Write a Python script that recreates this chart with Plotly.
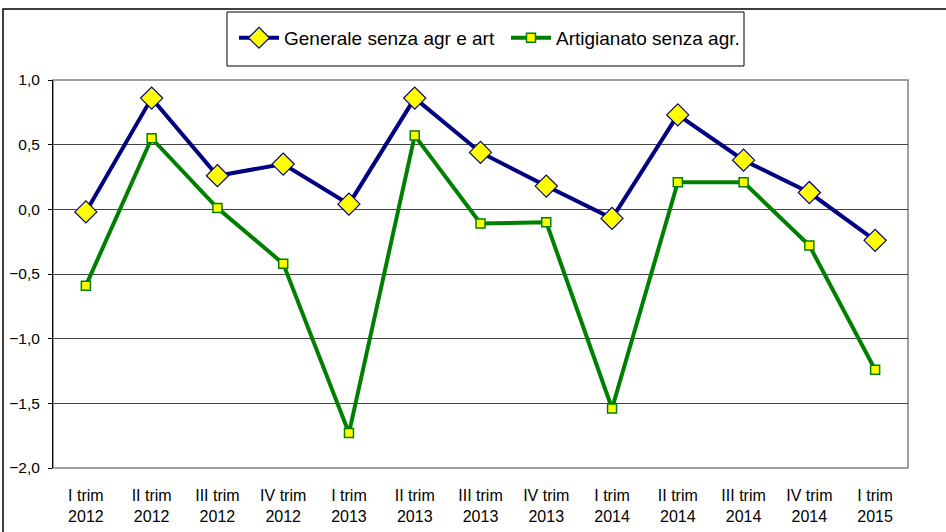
import plotly.graph_objects as go

categories = ["I trim<br>2012", "II trim<br>2012", "III trim<br>2012", "IV trim<br>2012",
              "I trim<br>2013", "II trim<br>2013", "III trim<br>2013", "IV trim<br>2013",
              "I trim<br>2014", "II trim<br>2014", "III trim<br>2014", "IV trim<br>2014",
              "I trim<br>2015"]
generale = [-0.02, 0.86, 0.26, 0.35, 0.04, 0.86, 0.44, 0.18, -0.07, 0.73, 0.38, 0.13, -0.24]
artigianato = [-0.59, 0.55, 0.01, -0.42, -1.73, 0.57, -0.11, -0.10, -1.54, 0.21, 0.21, -0.28, -1.24]
series_names = ["Generale senza agr e art", "Artigianato senza agr."]
y_ticks = [-2.0, -1.5, -1.0, -0.5, 0.0, 0.5, 1.0]

FONT = "Liberation Sans, Arial, sans-serif"
W, H = 946, 532
L, R, T, B = 53, 38, 80, 64
pw, ph = W - L - R, H - T - B

def px_x(x):
    return (x - L) / pw

def px_y(y):
    return (H - B - y) / ph

xi = list(range(len(categories)))

fig = go.Figure()
fig.add_trace(go.Scatter(
    x=xi, y=generale, name=series_names[0], mode="lines+markers",
    line=dict(color="#000080", width=4),
    marker=dict(symbol="diamond", size=17, color="#FFFF00",
                line=dict(color="#000080", width=1.2)),
))
fig.add_trace(go.Scatter(
    x=xi, y=artigianato, name=series_names[1], mode="lines+markers",
    line=dict(color="#008000", width=4),
    marker=dict(symbol="square", size=9, color="#FFFF00",
                line=dict(color="#008000", width=1.5)),
))

n = len(categories)
fig.update_layout(
    width=W, height=H,
    margin=dict(l=L, r=R, t=T, b=B, pad=0, autoexpand=False),
    paper_bgcolor="white", plot_bgcolor="white",
    separators=",.",
    font=dict(family=FONT, size=15, color="black"),
    showlegend=True,
    legend=dict(
        orientation="h", x=px_x(234), xanchor="left",
        y=px_y(38), yanchor="middle",
        bgcolor="rgba(0,0,0,0)", borderwidth=0,
        font=dict(family=FONT, size=19, color="black"),
        itemwidth=40, tracegroupgap=0,
        entrywidth=217, entrywidthmode="pixels",
    ),
    xaxis=dict(
        range=[-0.5, n - 0.5], tickmode="array", tickvals=xi, ticktext=categories,
        showgrid=False, zeroline=False, showline=False, ticks="",
        tickfont=dict(family=FONT, size=16, color="black"),
        ticklabelstandoff=16, automargin=False,
    ),
    xaxis2=dict(
        range=[-0.5, n - 0.5], overlaying="x", anchor="free",
        position=2 / 3, side="bottom",
        tickmode="array", tickvals=[i - 0.5 for i in range(n + 1)],
        ticks="outside", ticklen=4, tickcolor="#404040", tickwidth=1,
        showticklabels=False, showgrid=False, zeroline=False,
        showline=True, linecolor="#404040", linewidth=1.5, automargin=False,
    ),
    yaxis=dict(
        range=[-2.0, 1.0], tickmode="array", tickvals=y_ticks,
        tickformat=".1f", showgrid=True, gridcolor="#444444", gridwidth=1,
        zeroline=False, showline=True, linecolor="black", linewidth=1,
        ticks="outside", ticklen=4, tickcolor="black",
        tickfont=dict(family=FONT, size=15.5, color="black"),
        ticklabelstandoff=5, automargin=False,
    ),
    shapes=[
        # outer chart frame
        dict(type="rect", xref="paper", yref="paper",
             x0=px_x(3), x1=px_x(960), y0=px_y(545), y1=px_y(9),
             line=dict(color="black", width=1.5), fillcolor="rgba(0,0,0,0)", layer="below"),
        # legend box
        dict(type="rect", xref="paper", yref="paper",
             x0=px_x(227), x1=px_x(744), y0=px_y(66), y1=px_y(12),
             line=dict(color="black", width=1), fillcolor="white", layer="below"),
        # plot area border (top/right)
        dict(type="rect", xref="paper", yref="paper",
             x0=0, x1=1, y0=0, y1=1,
             line=dict(color="#808080", width=1.5), fillcolor="rgba(0,0,0,0)", layer="below"),
    ],
)

fig.write_html("out.html", config={"displayModeBar": False},
               post_script="document.body.style.margin='0';document.body.style.overflow='hidden';")
